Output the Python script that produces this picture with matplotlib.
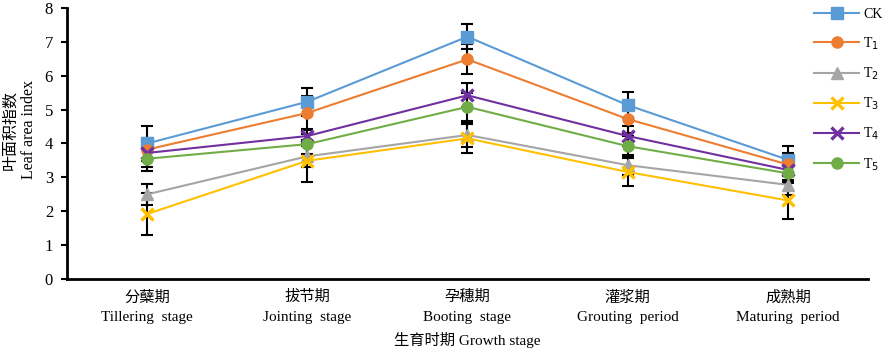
import matplotlib.pyplot as plt
import numpy as np

plt.rcParams["font.family"] = ["Liberation Serif", "Noto Sans CJK SC"]

stages_cn = ["分蘖期", "拔节期", "孕穗期", "灌浆期", "成熟期"]
stages_en = ["Tillering  stage", "Jointing  stage", "Booting  stage",
             "Grouting  period", "Maturing  period"]

ck = [4.00, 5.23, 7.15, 5.13, 3.52]
t1 = [3.82, 4.90, 6.48, 4.72, 3.38]
t2 = [2.50, 3.62, 4.25, 3.36, 2.78]
t3 = [1.92, 3.49, 4.15, 3.16, 2.32]
t4 = [3.72, 4.22, 5.42, 4.22, 3.22]
t5 = [3.55, 3.98, 5.08, 3.92, 3.12]

ck_err = [0.52, 0.42, 0.37, 0.38, 0.40]
t1_err = [0.35, 0.50, 0.44, 0.40, 0.35]
t2_err = [0.30, 0.30, 0.35, 0.30, 0.30]
t3_err = [0.62, 0.62, 0.43, 0.42, 0.55]
t4_err = [0.40, 0.20, 0.35, 0.30, 0.30]
t5_err = [0.35, 0.30, 0.42, 0.30, 0.30]

series = [
    ("CK", ck, ck_err, "#5B9BD5", "s"),
    ("T$_1$", t1, t1_err, "#ED7D31", "o"),
    ("T$_2$", t2, t2_err, "#A5A5A5", "^"),
    ("T$_3$", t3, t3_err, "#FFC000", "x"),
    ("T$_4$", t4, t4_err, "#7030A0", "x"),
    ("T$_5$", t5, t5_err, "#70AD47", "o"),
]

fig = plt.figure(figsize=(8.86, 3.56), dpi=100)
ax = fig.add_axes([0.0756, 0.216, 0.904, 0.762])

x = np.arange(len(stages_cn))
handles = []
for name, vals, err, color, mk in series:
    ax.errorbar(x, vals, yerr=err, fmt="none", ecolor="black",
                elinewidth=1.5, capsize=4, capthick=1.5, zorder=2)
for name, vals, err, color, mk in series:
    mew = 2.4 if mk == "x" else 1
    h, = ax.plot(x, vals, color=color, marker=mk, markersize=8,
                 markeredgewidth=mew, linewidth=1.5, label=name, zorder=3)
    handles.append(h)

ax.set_xlim(-0.5, 4.5)
ax.set_ylim(0, 8)
ax.set_yticks(range(0, 9))
ax.set_xticks(x)
ax.set_xticklabels([f"{c}\n{e}" for c, e in zip(stages_cn, stages_en)],
                   fontsize=11, linespacing=1.65)
ax.tick_params(axis="x", length=0, pad=8)
ax.tick_params(axis="y", labelsize=12, width=1.5, length=4, pad=6)
for s in ["top", "right"]:
    ax.spines[s].set_visible(False)
for s in ["left", "bottom"]:
    ax.spines[s].set_linewidth(2)

ax.set_xlabel("生育时期 Growth stage", fontsize=11, labelpad=6)
ax.set_ylabel("叶面积指数\nLeaf area index", fontsize=11.5,
              linespacing=1.15)
ax.yaxis.set_label_coords(-0.038, 0.55)

fig.legend(handles=handles, loc="upper left", bbox_to_anchor=(0.905, 1.012),
           frameon=False, fontsize=10, labelspacing=1.0, handlelength=3.2,
           handletextpad=0.3)

fig.savefig("out.png", dpi=100)
